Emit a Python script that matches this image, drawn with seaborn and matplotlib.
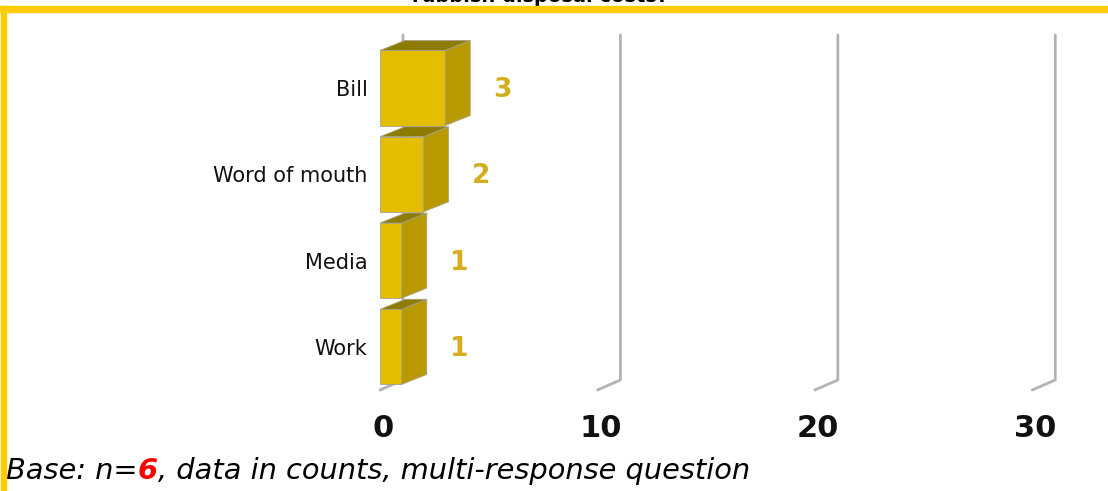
import numpy as np
import pandas as pd
import seaborn as sns
import matplotlib.pyplot as plt
from matplotlib.patches import Polygon, Rectangle
from matplotlib.lines import Line2D
from matplotlib.transforms import ScaledTranslation

# ---- data ----
categories = ["Bill", "Word of mouth", "Media", "Work"]
counts = [3, 2, 1, 1]
x_ticks = [0, 10, 20, 30]
title_text = "rubbish disposal costs?"
base_n = 6

# ---- colours ----
FRONT = "#E3BE00"
SIDE = "#B89A00"
TOP = "#8E7C00"
EDGE = "#A8A28A"
LABEL_GOLD = "#D4AE1E"
GRID = "#B3B3B3"
FRAME = "#FFCC00"

W, H = 1108, 491
sns.set_style("white")
plt.rcParams['font.family'] = ['DejaVu Sans']

fig = plt.figure(figsize=(W / 100, H / 100), dpi=100)

# axes placed in pixel terms
ax_left, ax_right, ax_top, ax_bot = 380, 1054, 35, 390
ax = fig.add_axes([ax_left / W, 1 - ax_bot / H,
                   (ax_right - ax_left) / W, (ax_bot - ax_top) / H])

df = pd.DataFrame({"source": categories, "count": counts})
sns.barplot(data=df, x="count", y="source", color=FRONT, saturation=1,
            width=0.87, edgecolor=EDGE, linewidth=0.6, zorder=3, ax=ax)

ax.set_xlim(0, 31)
ax.set_ylim(3.5, -0.614)
sns.despine(ax=ax, left=True, bottom=True)
ax.set_xlabel("")
ax.set_ylabel("")

# ---- fake 3D depth ----
DX, DY = 25, 10      # bar depth in pixels
GDX = 23             # gridline depth in pixels
to_disp = ax.transData.transform
to_data = ax.transData.inverted().transform

# back-wall gridlines with floor feet
floor = to_disp((0, 3.5))[1]
top_y = to_disp((0, -0.614))[1]
for t in x_ticks:
    X = to_disp((t, 3.5))[0]
    pts = to_data([(X, floor), (X + GDX, floor + DY), (X + GDX, top_y)])
    ax.add_line(Line2D(pts[:, 0], pts[:, 1], color=GRID, lw=2,
                       zorder=1, clip_on=False))

for bar, val in zip(ax.patches[:len(counts)], counts):
    c = to_disp([(bar.get_x(), bar.get_y()),
                 (bar.get_x() + bar.get_width(), bar.get_y() + bar.get_height())])
    L, R = c[:, 0].min(), c[:, 0].max()
    B, T = c[:, 1].min(), c[:, 1].max()
    side = [(R, B), (R + DX, B + DY), (R + DX, T + DY), (R, T)]
    top = [(L, T), (L + DX, T + DY), (R + DX, T + DY), (R, T)]
    ax.add_patch(Polygon(to_data(side), closed=True, fc=SIDE, ec=EDGE,
                         lw=0.6, zorder=3, clip_on=False))
    ax.add_patch(Polygon(to_data(top), closed=True, fc=TOP, ec=EDGE,
                         lw=0.6, zorder=3, clip_on=False))
    cy = bar.get_y() + bar.get_height() / 2
    ax.annotate(f"{val}", xy=(val, cy), xytext=(DX + 23, -2),
                textcoords="offset pixels", ha="left", va="center",
                fontsize=19, fontweight="bold", color=LABEL_GOLD)

# ---- ticks ----
ax.set_xticks(x_ticks)
ax.set_xticklabels([str(t) for t in x_ticks], fontsize=22, fontweight="bold",
                   color="#111111")
ax.tick_params(axis="x", length=0, pad=17)
ax.tick_params(axis="y", length=0, pad=9, labelsize=15, labelcolor="#111111")
for lbl in ax.get_xticklabels():
    lbl.set_transform(lbl.get_transform() + ScaledTranslation(0.03, 0, fig.dpi_scale_trans))

# ---- title (cut off at top) ----
fig.text(540 / W, 1 - 2 / H, title_text, ha="center", va="baseline",
         fontsize=14, fontweight="bold", color="black")

# ---- frame ----
fig.patches.append(Rectangle((0, 1 - 11.5 / H), 1, 5.5 / H, transform=fig.transFigure,
                             color=FRAME, zorder=10))
fig.patches.append(Rectangle((0.5 / W, 0), 5.5 / W, 1 - 6 / H, transform=fig.transFigure,
                             color=FRAME, zorder=10))

# ---- footer, with the base count in red ----
fy = 1 - 479 / H
fs = 20.8
renderer = fig.canvas.get_renderer()
x = 6 / W
for txt, col, wt in [("Base: n=", "black", "normal"),
                     (str(base_n), "red", "bold"),
                     (", data in counts, multi-response question", "black", "normal")]:
    t = fig.text(x, fy, txt, ha="left", va="baseline", fontsize=fs,
                 fontstyle="italic", fontweight=wt, color=col)
    bb = t.get_window_extent(renderer=renderer)
    x = bb.x1 / W

fig.savefig("out.png", dpi=100)
